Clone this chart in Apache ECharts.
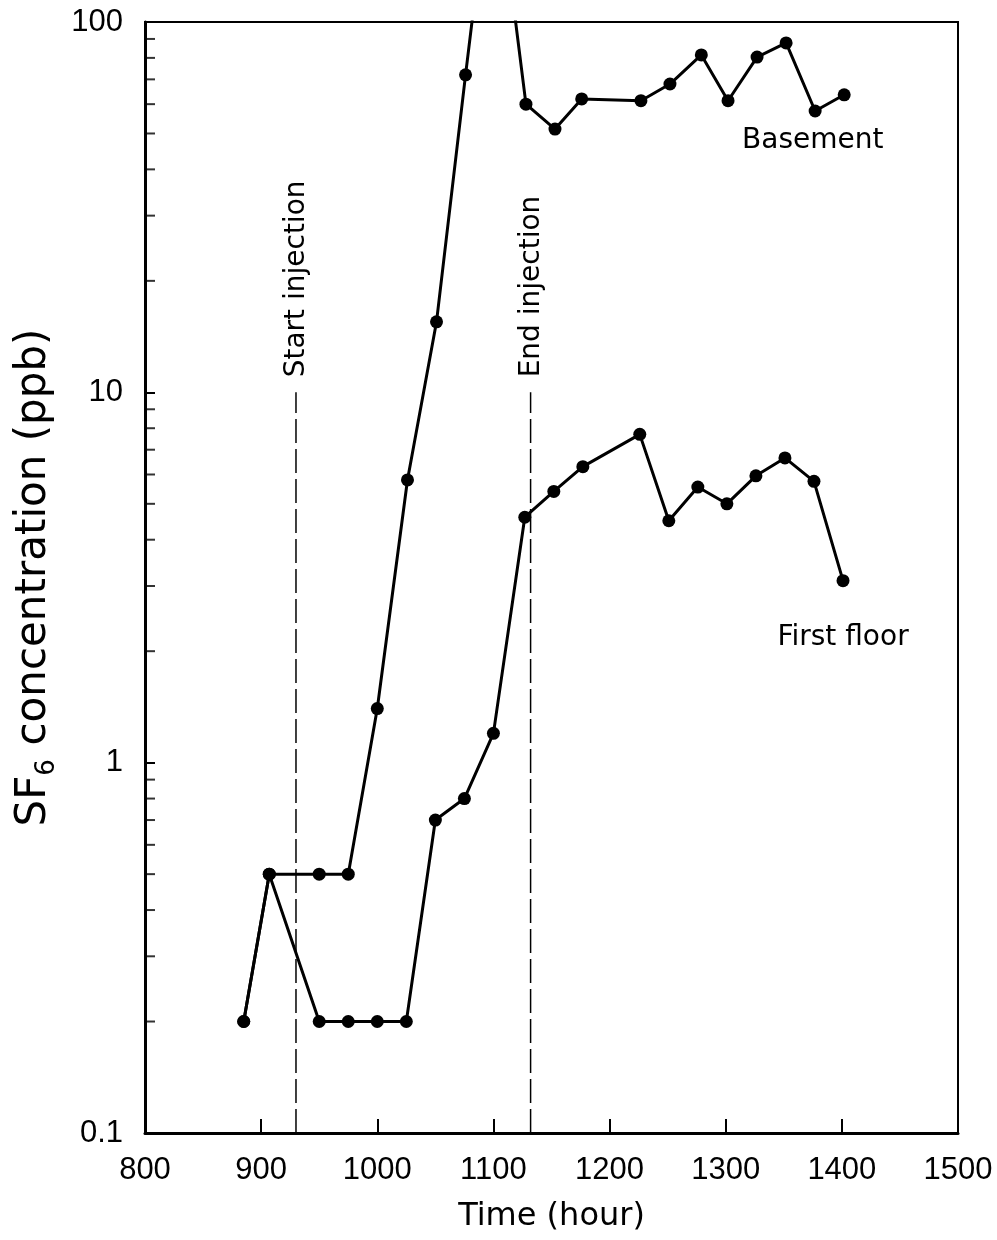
<!DOCTYPE html>
<html>
<head>
<meta charset="utf-8">
<script src="https://cdn.jsdelivr.net/npm/echarts@6/dist/echarts.min.js"></script>
<style>
  html, body { margin: 0; padding: 0; background: #fff; }
  #chart { width: 997px; height: 1240px; }
</style>
</head>
<body>
<div id="chart"></div>
<script>
// values (time in hours, SF6 in ppb)
const basementTime = [885, 907, 950, 975, 1000, 1026, 1051, 1076, 1100, 1128, 1153, 1176, 1227, 1252, 1279, 1302, 1327, 1352, 1377, 1402]
const basementConc = [0.2, 0.5, 0.5, 0.5, 1.4, 5.8, 15.5, 72, 300, 60, 51.4, 62, 61.3, 68, 81.5, 61.3, 80.4, 87.8, 57.5, 63.6]
const firstTime = [885, 907, 950, 975, 1000, 1025, 1050, 1075, 1100, 1127, 1152, 1177, 1226, 1251, 1276, 1301, 1326, 1351, 1376, 1401]
const firstConc = [0.2, 0.5, 0.2, 0.2, 0.2, 0.2, 0.7, 0.8, 1.2, 4.6, 5.4, 6.3, 7.7, 4.5, 5.55, 5.0, 5.95, 6.65, 5.75, 3.1]

// injection markers
const injectionTimes = [930, 1132]
const injectionLabels = ['Start injection', 'End injection']
const injectionFrom = 0.1
const injectionTo = 10

// series labels, placed at data coordinates
const seriesLabels = ['Basement', 'First floor']
const seriesLabelAt = [[1375, 47.7], [1401, 2.18]]

// log minor ticks on the y axis
const minorTicks = [0.2, 0.3, 0.4, 0.5, 0.6, 0.7, 0.8, 0.9, 2, 3, 4, 5, 6, 7, 8, 9, 20, 30, 40, 50, 60, 70, 80, 90]

const zip = (xs, ys) => xs.map((x, i) => [x, ys[i]])

const chart = echarts.init(document.getElementById('chart'))

const tickFont = { fontFamily: 'Liberation Sans', fontSize: 31, color: '#000' }

const option = {
  animation: false,
  grid: {
    left: 145, right: 39, top: 22, bottom: 107,
    show: true, borderColor: '#000', borderWidth: 2
  },
  xAxis: {
    type: 'value',
    min: 800, max: 1500, interval: 100,
    name: 'Time (hour)',
    nameLocation: 'middle',
    nameGap: 68,
    nameTextStyle: { fontFamily: 'DejaVu Sans', fontSize: 32, color: '#000' },
    axisLine: { lineStyle: { color: '#000', width: 3 } },
    axisTick: { inside: true, length: 14, lineStyle: { color: '#000', width: 2 } },
    axisLabel: Object.assign({ margin: 22, formatter: v => String(v) }, tickFont),
    splitLine: { show: false }
  },
  yAxis: {
    type: 'log',
    min: 0.1, max: 100,
    name: '{n|SF}{s|6}{g| }{n| concentration (ppb)}',
    nameLocation: 'middle',
    nameGap: 76,
    nameTextStyle: {
      color: '#000',
      rich: {
        n: { fontFamily: 'DejaVu Sans', fontSize: 42, lineHeight: 42, verticalAlign: 'top', color: '#000' },
        s: { fontFamily: 'DejaVu Sans', fontSize: 26, lineHeight: 26, verticalAlign: 'bottom', color: '#000' },
        g: { fontSize: 1, lineHeight: 47 }
      }
    },
    axisLine: { lineStyle: { color: '#000', width: 3 } },
    axisTick: { inside: true, length: 10, lineStyle: { color: '#000', width: 2 } },
    axisLabel: Object.assign({ margin: 22, formatter: v => String(v) }, tickFont),
    splitLine: { show: false }
  },
  series: [
    {
      name: 'Basement',
      type: 'line',
      data: zip(basementTime, basementConc),
      symbol: 'circle',
      symbolSize: 13,
      itemStyle: { color: '#000' },
      lineStyle: { color: '#000', width: 3 }
    },
    {
      name: 'First floor',
      type: 'line',
      data: zip(firstTime, firstConc),
      symbol: 'circle',
      symbolSize: 13,
      itemStyle: { color: '#000' },
      lineStyle: { color: '#000', width: 3 }
    },
    ...injectionTimes.map(t => ({
      type: 'line',
      data: [[t, injectionFrom], [t, injectionTo]],
      symbol: 'none',
      silent: true,
      lineStyle: { color: '#000', width: 1.5, type: [24, 6] }
    })),
    {
      // minor log ticks drawn as short bars on the left axis
      type: 'scatter',
      silent: true,
      clip: false,
      data: minorTicks.map(v => [800, v]),
      symbol: 'rect',
      symbolSize: [10, 2],
      symbolOffset: [5, 0],
      itemStyle: { color: '#000' }
    }
  ]
}

chart.setOption(option)

// annotations positioned through the chart's own scales
const graphics = []
injectionTimes.forEach((t, i) => {
  const p = chart.convertToPixel({ gridIndex: 0 }, [t, injectionTo])
  graphics.push({
    type: 'text',
    x: p[0] + 1,
    y: p[1] - 15,
    rotation: Math.PI / 2,
    style: {
      text: injectionLabels[i],
      fontFamily: 'DejaVu Sans',
      fontSize: 28,
      fill: '#000',
      align: 'left',
      verticalAlign: 'middle'
    }
  })
})
seriesLabels.forEach((s, i) => {
  const p = chart.convertToPixel({ gridIndex: 0 }, seriesLabelAt[i])
  graphics.push({
    type: 'text',
    x: p[0],
    y: p[1],
    style: {
      text: s,
      fontFamily: 'DejaVu Sans',
      fontSize: 28,
      fill: '#000',
      align: 'center',
      verticalAlign: 'middle'
    }
  })
})
chart.setOption({ graphic: graphics })
</script>
</body>
</html>
